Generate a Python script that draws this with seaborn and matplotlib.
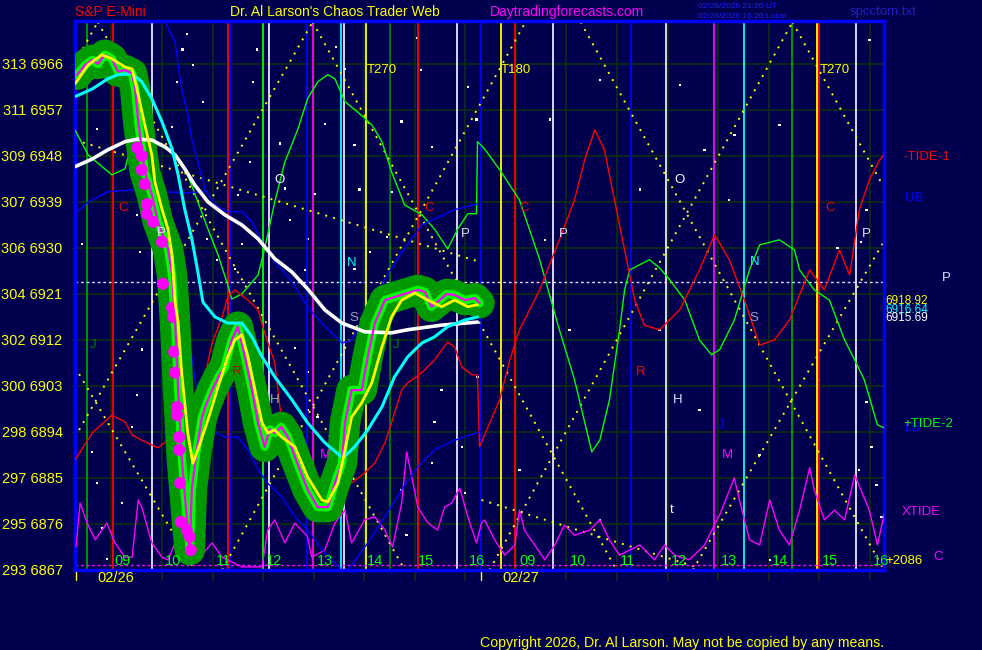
import matplotlib
matplotlib.use("Agg")
import matplotlib.pyplot as plt
import seaborn as sns

sns.set_style("dark")
plt.rcParams["font.family"] = ["Liberation Sans", "DejaVu Sans"]

BG = "#00004f"
GRID = "#0b2e12"

# ---------------- data (time in session hours from 08:15 of 02/26, price) -------------
close_t = [0.04, 0.20, 0.34, 0.45, 0.59, 0.73, 0.85, 0.99, 1.13, 1.19, 1.25, 1.32, 1.38, 1.52, 1.64,
           1.84, 1.92, 1.98, 2.04, 2.11, 2.23, 2.27, 2.31, 2.40, 2.51, 2.60, 2.71, 2.85, 2.96, 3.10,
           3.22, 3.36, 3.50, 3.62, 3.75, 3.85, 3.95, 4.08, 4.21, 4.35, 4.60, 4.80, 5.00, 5.14, 5.28,
           5.34, 5.47, 5.67, 5.79, 5.93, 6.13, 6.32, 6.58, 6.78, 6.92, 7.05, 7.21, 7.35, 7.51, 7.71,
           7.91, 8.00]
close_p = [6963.9, 6965.8, 6966.8, 6966.0, 6967.8, 6967.0, 6964.5, 6964.8, 6964.1, 6961.1, 6954.7,
           6949.4, 6944.9, 6940.4, 6935.1, 6929.8, 6924.7, 6915.3, 6902.2, 6889.1, 6874.8, 6870.9,
           6882.7, 6890.0, 6896.9, 6899.5, 6902.2, 6905.0, 6906.7, 6912.0, 6914.6, 6908.7, 6902.2,
           6895.8, 6891.1, 6894.5, 6893.8, 6895.0, 6893.0, 6889.1, 6882.7, 6879.3, 6879.3, 6884.0,
           6887.9, 6895.8, 6902.2, 6902.2, 6908.7, 6915.3, 6919.8, 6920.4, 6921.2, 6921.8, 6921.4,
           6918.5, 6919.8, 6921.0, 6920.8, 6919.8, 6920.2, 6919.2]

fast_t = [0.00, 0.26, 0.53, 0.73, 0.99, 1.13, 1.25, 1.38, 1.52, 1.58, 1.72, 1.84, 1.92, 1.98, 2.04,
          2.11, 2.23, 2.33, 2.43, 2.63, 2.83, 3.02, 3.16, 3.30, 3.42, 3.56, 3.70, 3.81, 3.95, 4.09,
          4.35, 4.60, 4.88, 5.00, 5.20, 5.34, 5.47, 5.67, 5.87, 6.07, 6.26, 6.46, 6.72, 6.98, 7.25,
          7.51, 7.77, 7.96]
fast_p = [6962.1, 6965.8, 6967.8, 6967.0, 6965.4, 6965.0, 6960.0, 6954.1, 6948.2, 6942.9, 6937.6,
          6933.7, 6928.6, 6919.4, 6915.3, 6905.6, 6893.8, 6887.9, 6890.5, 6896.4, 6902.8, 6908.7,
          6912.0, 6913.0, 6908.7, 6902.2, 6895.8, 6893.8, 6894.4, 6893.0, 6891.1, 6885.2, 6880.7,
          6880.3, 6884.0, 6890.5, 6896.9, 6899.7, 6903.6, 6910.6, 6916.5, 6919.8, 6921.2, 6919.8,
          6918.5, 6919.8, 6918.5, 6918.9]

mid_t = [0.00, 0.34, 0.65, 0.85, 1.13, 1.32, 1.52, 1.72, 1.92, 2.04, 2.17, 2.31, 2.43, 2.53, 2.77,
         3.02, 3.30, 3.50, 3.70, 3.95, 4.29, 4.60, 4.94, 5.30, 5.53, 5.79, 6.07, 6.32, 6.58, 6.86,
         7.11, 7.37, 7.71, 7.96]
mid_p = [6959.6, 6961.1, 6963.1, 6963.9, 6964.1, 6962.5, 6959.2, 6954.7, 6949.4, 6944.3, 6937.6,
         6931.8, 6925.3, 6919.4, 6916.5, 6915.3, 6915.3, 6912.6, 6908.7, 6904.8, 6900.3, 6895.8,
         6891.9, 6888.9, 6891.1, 6894.4, 6898.9, 6904.8, 6908.7, 6911.4, 6912.6, 6914.6, 6915.9,
         6916.5]

slow_t = [0.00, 0.34, 0.65, 0.99, 1.25, 1.52, 1.78, 1.98, 2.17, 2.37, 2.63, 2.96, 3.30, 3.62, 3.95,
          4.29, 4.60, 4.94, 5.28, 5.73, 6.26, 6.58, 7.25, 7.96]
slow_p = [6945.9, 6947.4, 6949.2, 6950.8, 6951.3, 6951.1, 6949.8, 6948.2, 6945.5, 6942.3, 6939.0,
          6936.5, 6934.5, 6931.8, 6927.9, 6925.3, 6922.0, 6917.9, 6915.3, 6913.6, 6913.4, 6914.0,
          6914.9, 6915.5]

dots_t = [1.23, 1.32, 1.32, 1.38, 1.42, 1.42, 1.54, 1.72, 1.74, 1.92, 1.94, 1.96, 1.98, 2.02, 2.02,
          2.06, 2.06, 2.08, 2.09, 2.21, 2.27, 2.29]
dots_p = [6949.6, 6948.0, 6945.3, 6942.5, 6938.6, 6936.7, 6935.1, 6931.2, 6923.0, 6918.3, 6916.5,
          6909.7, 6905.6, 6898.9, 6897.3, 6893.0, 6890.5, 6884.0, 6876.4, 6874.8, 6873.5, 6870.9]

tide2_t = [0.00, 0.26, 0.73, 0.99, 1.05, 1.32, 1.64, 1.92, 2.11, 2.23, 2.43, 2.63, 2.83, 3.02, 3.10,
           3.30, 3.62, 3.75, 3.95, 4.15, 4.41, 4.60, 4.80, 5.00, 5.14, 5.34, 5.59, 5.87, 6.07, 6.26,
           6.52, 6.86, 7.11, 7.37, 7.57, 7.77, 7.94, 7.96, 8.10, 8.40, 8.79, 9.19, 9.58, 9.88, 10.22,
           10.38, 10.57, 10.77, 10.87, 10.97, 11.36, 11.56, 11.76, 12.06, 12.35, 12.59, 12.75, 13.04,
           13.34, 13.54, 13.93, 14.23, 14.33, 14.62, 14.92, 15.22, 15.42, 15.61, 15.87, 16.00]
tide2_p = [6953.1, 6948.2, 6944.3, 6945.5, 6947.8, 6949.4, 6950.2, 6948.8, 6946.8, 6944.3, 6939.0,
           6933.7, 6928.6, 6922.8, 6920.0, 6921.0, 6924.7, 6929.8, 6939.0, 6946.8, 6953.3, 6959.2,
           6962.5, 6963.9, 6963.1, 6958.6, 6956.6, 6954.1, 6950.8, 6944.9, 6938.4, 6936.5, 6933.7,
           6929.8, 6933.7, 6936.7, 6936.7, 6950.8, 6949.4, 6945.3, 6939.4, 6927.7, 6914.0, 6904.2,
           6890.1, 6892.4, 6900.3, 6914.0, 6921.8, 6925.7, 6927.7, 6926.1, 6923.8, 6919.8, 6912.0,
           6909.1, 6910.1, 6915.9, 6925.7, 6930.6, 6931.6, 6929.6, 6925.7, 6921.8, 6919.8, 6912.0,
           6908.1, 6904.2, 6895.4, 6894.8]

tide1_t = [0.00, 0.34, 0.73, 0.99, 1.13, 1.32, 1.64, 1.84, 2.04, 2.31, 2.51, 2.71, 2.91, 3.02, 3.16,
           3.42, 3.62, 3.75, 3.95, 4.09, 4.29, 4.60, 4.94, 5.20, 5.47, 5.73, 5.93, 6.13, 6.26, 6.46,
           6.58, 6.86, 7.11, 7.37, 7.51, 7.65, 7.85, 7.96, 8.00, 8.40, 8.60, 8.79, 9.19, 9.58, 9.88,
           10.08, 10.28, 10.47, 10.67, 10.87, 11.07, 11.26, 11.56, 11.96, 12.35, 12.65, 12.94, 13.24,
           13.54, 13.83, 14.13, 14.53, 14.82, 15.12, 15.32, 15.51, 15.71, 15.91, 16.00]
tide1_p = [6888.5, 6893.8, 6897.3, 6896.0, 6893.4, 6892.4, 6890.9, 6892.4, 6894.4, 6898.3, 6902.2,
           6911.4, 6916.5, 6920.4, 6921.8, 6919.8, 6917.9, 6913.4, 6907.5, 6895.8, 6889.1, 6886.0,
           6881.3, 6882.7, 6884.0, 6886.0, 6887.9, 6891.9, 6895.8, 6902.2, 6903.6, 6905.6, 6908.1,
           6911.6, 6910.6, 6906.7, 6905.2, 6905.2, 6891.1, 6900.3, 6908.1, 6914.0, 6921.8, 6931.6,
           6939.4, 6947.2, 6953.1, 6949.2, 6939.4, 6929.6, 6919.8, 6914.9, 6914.0, 6917.9, 6925.7,
           6932.6, 6927.7, 6919.8, 6911.0, 6912.0, 6915.9, 6925.7, 6921.8, 6929.6, 6924.7, 6937.4,
           6943.3, 6947.2, 6948.2]

ub1_t = [0.00, 0.26, 0.65, 1.19, 1.70, 2.20, 2.57]
ub1_p = [6936.7, 6939.0, 6941.0, 6941.4, 6941.0, 6940.8, 6941.0]
ub2_t = [1.78, 1.98, 2.04, 2.11, 2.23, 2.31, 2.43, 2.57, 2.77, 3.02, 3.30, 3.50, 3.70, 3.95, 4.29,
         4.60, 4.88, 5.28, 5.47, 5.93, 6.42, 6.86, 7.51, 7.96]
ub2_p = [6974.2, 6970.3, 6965.8, 6961.1, 6956.0, 6951.3, 6946.8, 6941.6, 6938.4, 6937.1, 6937.1,
         6935.1, 6931.2, 6927.3, 6923.4, 6918.5, 6915.3, 6911.4, 6912.0, 6920.8, 6928.6, 6934.5,
         6937.5, 6938.6]
lb1_t = [2.17, 2.31, 2.43, 2.71, 2.96, 3.22, 3.42, 3.62, 3.81, 4.09, 4.35, 4.60, 4.94, 5.24]
lb1_p = [6915.3, 6908.7, 6900.3, 6894.4, 6893.0, 6893.0, 6890.5, 6886.6, 6884.0, 6881.3, 6877.4,
         6874.8, 6870.3, 6867.4]
lb2_t = [5.40, 5.79, 6.13, 6.46, 6.78, 7.11, 7.51, 8.00]
lb2_p = [6867.0, 6872.3, 6877.4, 6882.7, 6887.2, 6890.5, 6892.4, 6894.0]

xtide_t = [0.02, 0.10, 0.24, 0.40, 0.63, 0.79, 0.99, 1.13, 1.25, 1.32, 1.52, 1.72, 1.84, 1.98, 2.11,
           2.37, 2.71, 2.91, 3.30, 3.70, 3.81, 3.95, 4.15, 4.35, 4.60, 4.68, 4.94, 5.14, 5.34, 5.47,
           5.73, 5.93, 6.13, 6.28, 6.46, 6.56, 6.66, 6.78, 6.98, 7.17, 7.31, 7.45, 7.61, 7.77, 7.94,
           8.04, 8.10, 8.30, 8.50, 8.70, 8.79, 8.89, 9.09, 9.29, 9.49, 9.68, 9.88, 10.18, 10.38,
           10.57, 10.77, 11.17, 11.46, 11.66, 11.86, 12.15, 12.45, 12.75, 13.04, 13.14, 13.34,
           13.54, 13.74, 13.93, 14.13, 14.33, 14.53, 14.62, 14.82, 15.02, 15.22, 15.42, 15.71,
           15.87, 16.00]
xtide_p = [6871.5, 6880.1, 6876.2, 6872.9, 6876.2, 6872.3, 6869.5, 6869.5, 6880.7, 6879.3, 6872.3,
           6869.5, 6869.0, 6872.3, 6869.5, 6868.4, 6872.3, 6869.5, 6867.6, 6867.6, 6874.8, 6876.8,
           6872.3, 6876.2, 6873.5, 6869.5, 6870.9, 6876.2, 6878.7, 6872.3, 6876.8, 6877.4, 6874.8,
           6871.5, 6880.1, 6890.1, 6885.2, 6879.3, 6876.2, 6874.8, 6879.3, 6880.1, 6883.0, 6877.4,
           6872.3, 6876.2, 6876.8, 6872.9, 6869.9, 6871.9, 6878.7, 6874.8, 6871.9, 6869.0, 6871.9,
           6875.8, 6873.8, 6874.8, 6876.8, 6872.9, 6869.9, 6871.9, 6869.0, 6871.9, 6869.9, 6869.0,
           6871.9, 6877.8, 6885.0, 6880.7, 6872.9, 6871.9, 6880.7, 6874.8, 6871.9, 6878.7, 6887.0,
           6882.7, 6876.8, 6878.7, 6876.8, 6885.6, 6878.7, 6871.9, 6877.8]

# yellow dotted lattice / trend lines (start time, start price, end time, end price)
lat_t0 = [0.00, 0.45, 4.70, 2.91, 0.00, 0.00, 8.04, 10.00, 12.22, 8.20, 14.19, 0.00]
lat_p0 = [6893.0, 6974.2, 6974.2, 6867.0, 6906.7, 6951.1, 6880.7, 6974.2, 6867.0, 6867.0, 6974.2, 6966.2]
lat_t1 = [4.70, 6.52, 10.71, 8.91, 2.37, 8.00, 12.35, 16.00, 16.00, 14.19, 16.00, 0.45]
lat_p1 = [6974.2, 6867.0, 6867.0, 6974.2, 6867.0, 6927.3, 6867.4, 6867.0, 6931.3, 6974.2, 6941.8, 6974.2]

# vertical event lines
vline_t = [0.24, 0.75, 1.52, 3.02, 3.06, 3.72, 3.83, 4.58, 4.70, 5.26, 5.32, 5.75, 6.23, 6.78, 7.55,
           8.02, 8.42, 8.70, 9.45, 10.99, 11.68, 12.63, 13.24, 14.19, 14.68, 14.72, 15.45]
vline_c = ["#00a000", "#ff0000", "#e8e8ff", "#ff0000", "#0000ff", "#00ff00", "#e8e8ff", "#0000ff",
           "#ff00ff", "#00ffff", "#e8e8ff", "#ffff00", "#008000", "#ff0000", "#e8e8ff", "#0000ff",
           "#ffff00", "#ff0000", "#e8e8ff", "#0000ff", "#e8e8ff", "#ff00ff", "#00ffff", "#00a000",
           "#ffff00", "#ff0000", "#e8e8ff"]

# background star dots
star_t = [2.21, 2.13, 2.33, 2.02, 2.53, 3.52, 3.60, 1.92, 0.43, 3.46, 3.22, 1.23, 0.14, 2.87, 2.61,
          3.30, 1.28, 2.81, 3.16, 6.76, 5.16, 5.34, 6.84, 7.77, 6.46, 4.94, 7.94, 4.05, 5.53, 7.06,
          4.15, 6.26, 5.63, 4.74, 4.25, 6.17, 4.60, 5.83, 4.55, 5.53, 1.23, 1.32, 1.13, 0.34, 0.43,
          0.93, 0.53, 0.63, 4.35, 4.60, 4.60, 4.80, 7.06, 7.25, 7.11, 6.46, 6.56, 7.71, 7.96, 7.65,
          9.39, 10.38, 11.96, 12.45, 13.04, 13.93, 15.08, 15.71, 11.17, 12.35, 13.54, 10.38, 9.29,
          11.56, 14.72, 15.51, 13.74, 8.79, 9.78, 12.94, 15.65, 15.55, 15.65, 15.75, 15.85, 15.95]
star_p = [6971.9, 6968.8, 6965.8, 6962.5, 6958.6, 6962.5, 6968.8, 6953.7, 6953.3, 6946.8, 6940.4,
          6936.5, 6930.8, 6937.1, 6931.8, 6930.8, 6929.2, 6927.7, 6925.9, 6971.1, 6969.3, 6965.0,
          6964.8, 6961.5, 6954.7, 6954.3, 6955.1, 6950.4, 6950.2, 6949.8, 6941.6, 6941.0, 6941.4,
          6940.6, 6935.5, 6932.2, 6931.8, 6929.2, 6925.7, 6925.9, 6901.2, 6910.1, 6895.0, 6890.1,
          6884.0, 6880.1, 6875.2, 6869.2, 6910.4, 6905.7, 6898.3, 6896.9, 6887.9, 6902.2, 6896.0,
          6882.7, 6873.8, 6882.1, 6904.8, 6891.1, 6955.1, 6962.9, 6961.9, 6949.2, 6952.1, 6954.1,
          6930.0, 6970.7, 6941.4, 6898.3, 6889.5, 6876.8, 6931.6, 6914.0, 6904.2, 6886.6, 6869.0,
          6886.6, 6914.0, 6939.4, 6937.4, 6931.2, 6899.9, 6891.1, 6883.6, 6877.4]

price_ticks = [6867, 6876, 6885, 6894, 6903, 6912, 6921, 6930, 6939, 6948, 6957, 6966]
scale_ticks = [293, 295, 297, 298, 300, 302, 304, 306, 307, 309, 311, 313]
hour_labels = ["09", "10", "11", "12", "13", "14", "15", "16", "09", "10", "11", "12", "13", "14", "15", "16"]
date_labels = ["02/26", "02/27"]
ref_level = 6923.4
low_level = 6868.0

# text markers in the plot: (time, price, text, colour)
marks_t = [0.85, 1.62, 3.95, 0.30, 3.10, 3.85, 5.38, 5.43, 6.28, 4.84, 6.90, 7.63, 8.79, 9.57,
           11.86, 13.34, 13.34, 11.09, 11.82, 12.71, 12.79, 11.76, 14.84, 15.57]
marks_p = [6937.8, 6933.0, 6943.3, 6911.0, 6905.7, 6900.3, 6927.1, 6916.3, 6911.0, 6889.5, 6937.8,
           6932.8, 6937.8, 6932.8, 6943.3, 6927.3, 6916.3, 6905.7, 6900.3, 6895.4, 6889.5, 6878.7,
           6937.8, 6932.8]
marks_s = ["C", "P", "O", "J", "R", "H", "N", "S", "J", "M", "C", "P", "C", "P", "O", "N", "S", "R",
           "H", "J", "M", "t", "C", "P"]
marks_c = ["#ff0000", "#e0e0ff", "#ffffff", "#008000", "#c00000", "#90c090", "#00ffff", "#a0a0c0",
           "#008000", "#ff00ff", "#ff0000", "#e0e0ff", "#ff0000", "#e0e0ff", "#ffffff", "#00ffff",
           "#a0a0c0", "#ff0000", "#e0e0ff", "#0000ff", "#ff00ff", "#ffffff", "#ff0000", "#e0e0ff"]
cycle_t = [5.77, 8.42, 14.72]
cycle_s = ["T270", "T180", "T270"]

# ---------------- figure ----------------
W, H = 982, 650
fig = plt.figure(figsize=(W / 100, H / 100), dpi=100, facecolor=BG)
ax = fig.add_axes([75 / W, 80 / H, 809 / W, 549 / H])
ax.set_facecolor(BG)
ax.set_xlim(0, 16)
ax.set_ylim(6867, 6974.4)


def line(t, p, **kw):
    sns.lineplot(x=t, y=p, ax=ax, sort=False, estimator=None, legend=False, **kw)


# grid
for pv in price_ticks:
    ax.axhline(pv, color=GRID, lw=1.2, zorder=0)
hour_ticks = [0.72 + k for k in range(16)]
for hv in hour_ticks:
    ax.axvline(hv, color=GRID, lw=1.2, zorder=0)

sns.scatterplot(x=star_t, y=star_p, ax=ax, color="#ffffff", s=3, marker="s", edgecolor="none",
                zorder=0.5, legend=False)

# vertical event lines
for tv, cv in zip(vline_t, vline_c):
    ax.axvline(tv, color=cv, lw=1.3, zorder=1)

# dotted lattice
for a, b, c, d in zip(lat_t0, lat_p0, lat_t1, lat_p1):
    ax.plot([a, c], [b, d], color="#ffff00", lw=1.4, ls=(0, (1, 3.2)), zorder=2)

ax.axhline(ref_level, color="#e0e0ff", lw=1.0, ls=(0, (2, 2)), zorder=2)
ax.axhline(low_level, color="#ff00ff", lw=1.0, ls=(0, (2, 2)), zorder=2)

# indicator lines
line(tide2_t, tide2_p, color="#00ff00", lw=1.0, zorder=3)
line(tide1_t, tide1_p, color="#ff0000", lw=1.0, zorder=3)
line(xtide_t, xtide_p, color="#ff00ff", lw=1.0, zorder=3)
for bt, bp in [(ub1_t, ub1_p), (ub2_t, ub2_p), (lb1_t, lb1_p), (lb2_t, lb2_p)]:
    line(bt, bp, color="#0000ff", lw=1.0, zorder=3)

# price band
line(close_t, close_p, color="#009a00", lw=22, zorder=4, solid_capstyle="round", solid_joinstyle="round")
line(close_t, close_p, color="#00ff00", lw=6, zorder=5, solid_capstyle="round", solid_joinstyle="round")
sns.scatterplot(x=dots_t, y=dots_p, ax=ax, color="#ff00ff", s=75, edgecolor="none", zorder=6, legend=False)
line(slow_t, slow_p, color="#ffffff", lw=2.6, zorder=6)
line(mid_t, mid_p, color="#00ffff", lw=2.2, zorder=7)
line(close_t, close_p, color="#ff00ff", lw=1.6, zorder=8)
line(fast_t, fast_p, color="#ffff00", lw=2.0, zorder=9)

# markers text
for tv, pv, s, cv in zip(marks_t, marks_p, marks_s, marks_c):
    ax.text(tv, pv, s, color=cv, fontsize=9.5, ha="left", va="center", zorder=10)
for tv, s in zip(cycle_t, cycle_s):
    ax.text(tv, 6964.8, s, color="#ffff00", fontsize=9.5, ha="left", va="center", zorder=10)
for k, s in enumerate(hour_labels):
    ax.text(hour_ticks[k] + 0.06, 6868.8, s, color="#00ff00", fontsize=10.5, ha="left", va="center", zorder=10)

# axes styling
for side in ["left", "right", "top", "bottom"]:
    ax.spines[side].set_color("#0000ff")
    ax.spines[side].set_linewidth(2.5)
    ax.spines[side].set_visible(True)
ax.set_yticks(price_ticks)
ax.set_yticklabels([f"{s} {p}" for s, p in zip(scale_ticks, price_ticks)])
ax.tick_params(axis="y", colors="#ffff00", labelsize=10.5, length=3, color=GRID, pad=6, left=True)
ax.set_xticks(hour_ticks)
ax.set_xticklabels([])
ax.tick_params(axis="x", length=8, color=GRID, bottom=True, width=1.2)
ax.set_xlabel("")
ax.set_ylabel("")


def ftext(px, py, s, c, size=9.5, **kw):
    fig.text(px / W, 1 - py / H, s, color=c, fontsize=size, ha="left", va="center", **kw)


ftext(75, 12, "S&P E-Mini", "#ff0000", 10)
ftext(230, 12, "Dr. Al Larson's Chaos Trader Web", "#ffff00", 10)
ftext(490, 12, "Daytradingforecasts.com", "#ff00ff", 10)
ftext(698, 6, "02/26/2026 21:20 UT", "#2020ff", 6)
ftext(698, 16, "02/26/2026 16:20 Local", "#2020ff", 6)
ftext(850, 12, "spcctom.txt", "#2020c0", 9.5)

ftext(903, 157, "-TIDE-1", "#ff0000")
ftext(905, 198, "UB", "#0000ff")
ftext(942, 278, "P", "#e0e0ff")
ftext(885, 301, "6918.92", "#ffff00", 8.5)
ftext(885, 310, "6916.64", "#00ffff", 8.5)
ftext(885, 318, "6915.69", "#ffffff", 8.5)
ftext(905, 428, "LB", "#0000ff")
ftext(903, 424, "+TIDE-2", "#00ff00")
ftext(902, 512, "XTIDE", "#ff00ff")
ftext(933, 557, "C", "#ff00ff")
ftext(885, 561, "+2086", "#ffff00", 9.5)

ftext(97, 578, date_labels[0], "#ffff00", 10.5)
ftext(502, 578, date_labels[1], "#ffff00", 10.5)
for dx in [75.5, 480.5]:
    fig.add_artist(plt.Line2D([dx / W, dx / W], [1 - 572 / H, 1 - 580 / H], color="#ffff00", lw=1))

ftext(480, 643, "Copyright 2026, Dr. Al Larson. May not be copied by any means.", "#ffff00", 10.2)

fig.savefig("out.png", dpi=100, facecolor=BG)
